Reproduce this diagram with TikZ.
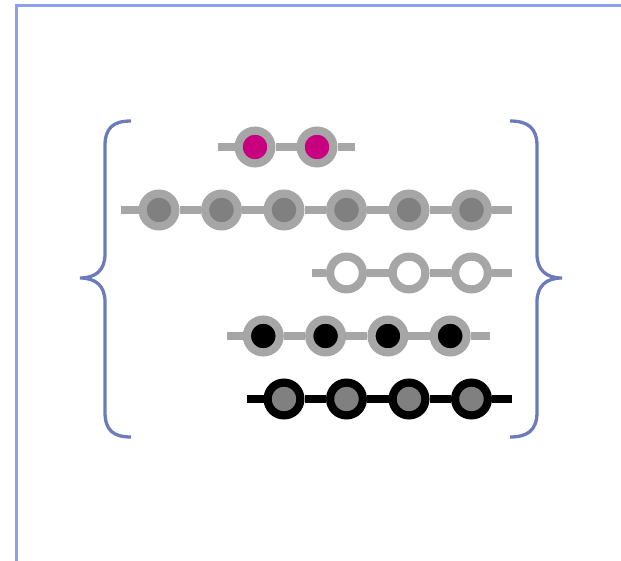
\documentclass[tikz,border=0pt]{standalone}
\usetikzlibrary{positioning}

\definecolor{framecol}{RGB}{140,160,238}
\definecolor{bracecol}{RGB}{107,123,187}
\definecolor{ringgray}{RGB}{166,166,166}
\definecolor{coregray}{RGB}{128,128,128}
\definecolor{corepink}{RGB}{200,0,128}

\tikzset{
	bead/.style = {circle, draw = ringgray, line width = 8.2pt, minimum size = 32.8pt, inner sep = 0pt},
	darkbead/.style = {bead, draw = black},
	wire/.style = {draw = ringgray, line width = 7.8pt},
	darkwire/.style = {wire, draw = black},
	brace/.style = {draw = bracecol, line width = 3.3pt}
}

\begin{document}
\begin{tikzpicture}[x = 1pt, y = -1pt]
		\useasboundingbox (0, 0) rectangle (621, 561);
		% frame
		\draw[framecol, line width = 3pt] (16.5, 561) -- (16.5, 5.5) -- (621, 5.5);
		% braces
		\draw[brace] (131, 121) .. controls (113, 121) and (105, 128) .. (105, 146) -- (105, 254)
			.. controls (105, 270) and (96, 278) .. (80, 278)
			.. controls (96, 278) and (105, 286) .. (105, 302) -- (105, 412)
			.. controls (105, 430) and (113, 437) .. (131, 437);
		\draw[brace] (510, 121) .. controls (528, 121) and (537, 128) .. (537, 146) -- (537, 254)
			.. controls (537, 270) and (546, 278) .. (562, 278)
			.. controls (546, 278) and (537, 286) .. (537, 302) -- (537, 412)
			.. controls (537, 430) and (528, 437) .. (510, 437);
		% row 1
		\coordinate (s1) at (218, 147);
		\coordinate (e1) at (355, 147);
		\node[bead, fill = corepink] (a1) at (255, 147) {};
		\node[bead, fill = corepink] (a2) at (317, 147) {};
		\draw[wire] (s1) -- (a1) -- (a2) -- (e1);
		% row 2
		\coordinate (s2) at (121, 210);
		\coordinate (e2) at (512, 210);
		\foreach \i in {1, ..., 6}
			\node[bead, fill = coregray] (b\i) at (159 + 62.5*\i - 62.5, 210) {};
		\draw[wire] (s2) -- (b1) -- (b2) -- (b3) -- (b4) -- (b5) -- (b6) -- (e2);
		% row 3
		\coordinate (s3) at (312, 273);
		\coordinate (e3) at (512, 273);
		\foreach \i in {1, 2, 3}
			\node[bead, fill = white] (c\i) at (284 + 62.5*\i, 273) {};
		\draw[wire] (s3) -- (c1) -- (c2) -- (c3) -- (e3);
		% row 4
		\coordinate (s4) at (227, 336);
		\coordinate (e4) at (490, 336);
		\foreach \i in {1, ..., 4}
			\node[bead, fill = black] (d\i) at (201 + 62.3*\i, 336) {};
		\draw[wire] (s4) -- (d1) -- (d2) -- (d3) -- (d4) -- (e4);
		% row 5
		\coordinate (s5) at (247, 399);
		\coordinate (e5) at (512, 399);
		\foreach \i in {1, ..., 4}
			\node[darkbead, fill = coregray] (f\i) at (221.5 + 62.5*\i, 399) {};
		\draw[darkwire] (s5) -- (f1) -- (f2) -- (f3) -- (f4) -- (e5);
	\end{tikzpicture}
\end{document}
